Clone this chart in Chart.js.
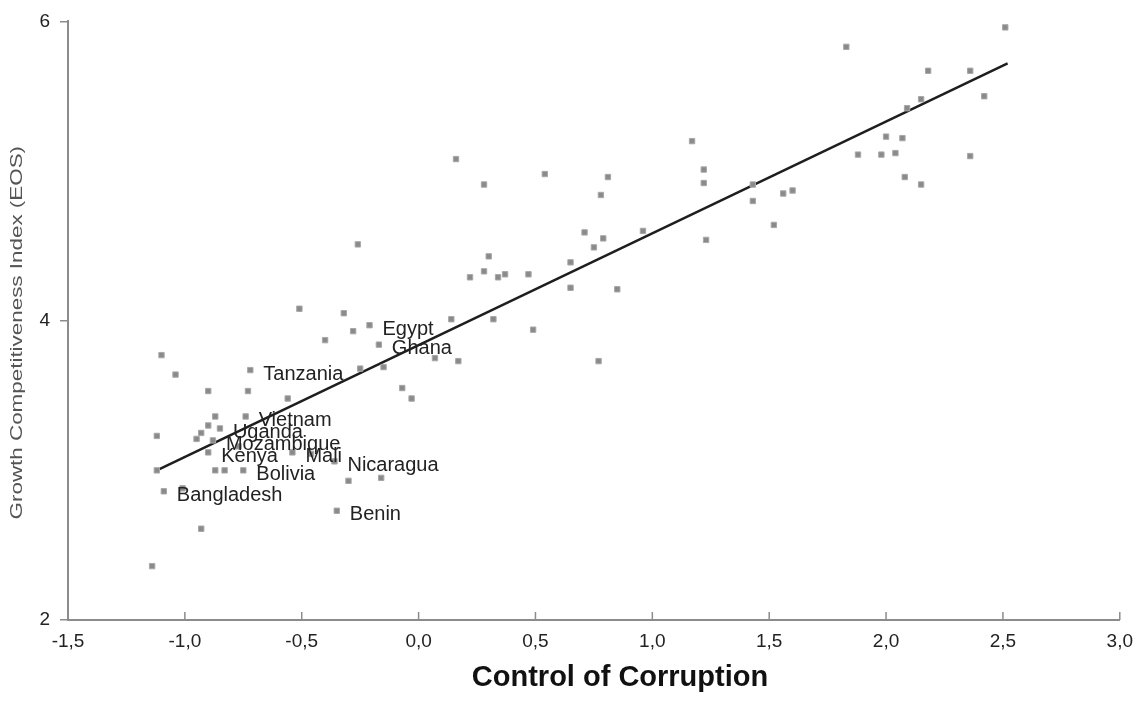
<!DOCTYPE html>
<html lang="en">
<head>
    <meta charset="UTF-8">
    <title>Control of Corruption vs Growth Competitiveness</title>
    <script src="https://cdn.jsdelivr.net/npm/chart.js"></script>
    <style>
        body {
            margin: 0;
            padding: 0;
            background-color: #fff;
        }

        #wrap {
            width: 1143px;
            height: 717px;
        }
    </style>
</head>
<body>
    <div id="wrap">
        <canvas id="scatter" width="1143" height="717"></canvas>
    </div>

    <script>
        // labelled countries
        const countryNames = ["Egypt", "Ghana", "Tanzania", "Vietnam", "Uganda", "Mozambique",
                              "Kenya", "Mali", "Bolivia", "Nicaragua", "Bangladesh", "Benin"];
        const countryX = [-0.21, -0.17, -0.72, -0.74, -0.85, -0.88, -0.90, -0.54, -0.75, -0.36, -1.09, -0.35];
        const countryY = [3.97, 3.84, 3.67, 3.36, 3.28, 3.20, 3.12, 3.12, 3.00, 3.06, 2.86, 2.73];

        // all other countries
        const otherX = [2.51, 1.83, 2.18, 2.36, 2.42, 2.15, 2.09, 2.00, 2.07, 1.88, 1.98, 2.04, 2.36, 2.08, 2.15,
                        1.17, 1.22, 1.22, 0.81, 0.78, 1.43, 1.43, 1.56, 1.60, 1.52, 0.96, 0.79, 1.23, 0.85, 0.77,
                        0.16, 0.28, 0.54, -0.26, 0.30, 0.22, 0.28, 0.34, 0.37, 0.47, 0.71, 0.75, 0.65, 0.65,
                        0.14, 0.32, 0.49, -0.51, -0.32, -0.28, -0.40, 0.07, 0.17, -0.15, -0.25,
                        -1.10, -1.04, -0.90, -0.73, -0.56, -0.07, -0.03, -0.87, -0.90, -0.93, -0.95, -1.12,
                        -0.77, -0.46, -0.87, -0.83, -0.30, -0.16, -1.01, -0.93, -1.14, -1.12];
        const otherY = [5.96, 5.83, 5.67, 5.67, 5.50, 5.48, 5.42, 5.23, 5.22, 5.11, 5.11, 5.12, 5.10, 4.96, 4.91,
                        5.20, 5.01, 4.92, 4.96, 4.84, 4.91, 4.80, 4.85, 4.87, 4.64, 4.60, 4.55, 4.54, 4.21, 3.73,
                        5.08, 4.91, 4.98, 4.51, 4.43, 4.29, 4.33, 4.29, 4.31, 4.31, 4.59, 4.49, 4.39, 4.22,
                        4.01, 4.01, 3.94, 4.08, 4.05, 3.93, 3.87, 3.75, 3.73, 3.69, 3.68,
                        3.77, 3.64, 3.53, 3.53, 3.48, 3.55, 3.48, 3.36, 3.30, 3.25, 3.21, 3.23,
                        3.16, 3.11, 3.00, 3.00, 2.93, 2.95, 2.88, 2.61, 2.36, 3.00];

        // fitted line
        const fitX = [-1.12, 2.52];
        const fitY = [3.00, 5.72];

        const xTicks = [-1.5, -1.0, -0.5, 0.0, 0.5, 1.0, 1.5, 2.0, 2.5, 3.0];
        const xTickLabels = ["-1,5", "-1,0", "-0,5", "0,0", "0,5", "1,0", "1,5", "2,0", "2,5", "3,0"];
        const yTickLabels = { 2: "2", 4: "4", 6: "6" };

        const xTitle = "Control of Corruption";
        const yTitle = "Growth Competitiveness Index (EOS)";

        const toPoints = (xs, ys) => xs.map((x, i) => ({ x: x, y: ys[i] }));

        const pointStyle = {
            pointStyle: "rect",
            pointRadius: 3.8,
            pointBackgroundColor: "#8a8a8a",
            pointBorderColor: "#a8a8a8",
            pointBorderWidth: 1
        };

        // country names to the right of their points, axis titles and inner x ticks
        const extras = {
            id: "extras",
            afterDatasetsDraw(chart) {
                const ctx = chart.ctx;
                const meta = chart.getDatasetMeta(1);
                ctx.save();
                ctx.fillStyle = "#222";
                ctx.font = "20px 'Liberation Sans', Arial, sans-serif";
                ctx.textBaseline = "middle";
                meta.data.forEach((pt, i) => {
                    ctx.fillText(countryNames[i], pt.x + 13, pt.y + 4);
                });
                ctx.restore();
            },
            afterDraw(chart) {
                const ctx = chart.ctx;
                const xs = chart.scales.x;
                const area = chart.chartArea;
                ctx.save();
                // x ticks pointing up into the plot
                ctx.strokeStyle = "#8c8c8c";
                ctx.lineWidth = 1.5;
                xTicks.forEach(v => {
                    const px = xs.getPixelForValue(v);
                    ctx.beginPath();
                    ctx.moveTo(px, area.bottom);
                    ctx.lineTo(px, area.bottom - 8);
                    ctx.stroke();
                });
                // x title
                ctx.fillStyle = "#111";
                ctx.font = "bold 29px 'Liberation Sans', Arial, sans-serif";
                ctx.textAlign = "center";
                ctx.textBaseline = "middle";
                ctx.fillText(xTitle, 620, 678);
                // y title, stretched along its length
                ctx.translate(18, (area.top + area.bottom) / 2 + 12);
                ctx.rotate(-Math.PI / 2);
                ctx.scale(1.4, 1);
                ctx.fillStyle = "#555";
                ctx.font = "16px 'Liberation Sans', Arial, sans-serif";
                ctx.fillText(yTitle, 0, 0);
                ctx.restore();
            }
        };

        new Chart(document.getElementById("scatter").getContext("2d"), {
            type: "scatter",
            data: {
                datasets: [
                    Object.assign({ label: "Countries", data: toPoints(otherX, otherY) }, pointStyle),
                    Object.assign({ label: "Labelled", data: toPoints(countryX, countryY) }, pointStyle),
                    {
                        type: "line",
                        label: "Fit",
                        data: toPoints(fitX, fitY),
                        borderColor: "#1e1e1e",
                        borderWidth: 2.5,
                        pointRadius: 0,
                        fill: false
                    }
                ]
            },
            options: {
                responsive: false,
                animation: false,
                layout: { padding: { top: 18, right: 16, left: 0, bottom: 0 } },
                plugins: {
                    legend: { display: false },
                    tooltip: { enabled: false }
                },
                scales: {
                    x: {
                        type: "linear",
                        min: -1.5,
                        max: 3.0,
                        afterBuildTicks(scale) {
                            scale.ticks = xTicks.map(v => ({ value: v }));
                        },
                        afterFit(scale) { scale.height = 97; },
                        grid: { display: true, drawOnChartArea: false, drawTicks: false },
                        border: { color: "#8c8c8c", width: 2 },
                        ticks: {
                            padding: 10,
                            color: "#222",
                            font: { size: 19, family: "'Liberation Sans', Arial, sans-serif" },
                            callback: (v) => xTickLabels[xTicks.indexOf(v)]
                        }
                    },
                    y: {
                        type: "linear",
                        min: 2,
                        max: 6,
                        afterFit(scale) { scale.width = 68; },
                        grid: { display: true, drawOnChartArea: false, drawTicks: true, tickLength: 8, color: "#8c8c8c", lineWidth: 1.5 },
                        border: { color: "#8c8c8c", width: 2 },
                        ticks: {
                            stepSize: 2,
                            padding: 10,
                            color: "#222",
                            font: { size: 19, family: "'Liberation Sans', Arial, sans-serif" },
                            callback: (v) => yTickLabels[v]
                        }
                    }
                }
            },
            plugins: [extras]
        });
    </script>
</body>
</html>
